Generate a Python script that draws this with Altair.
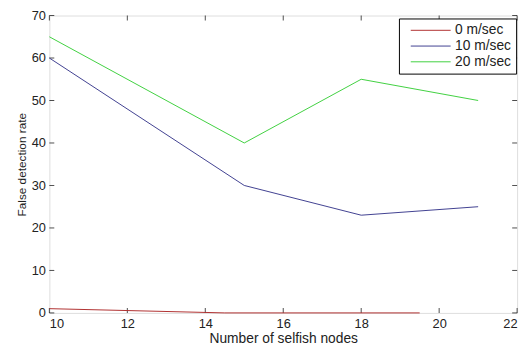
import altair as alt
import pandas as pd

speeds = ["0 m/sec", "10 m/sec", "20 m/sec"]
colors = ["#b03030", "#404090", "#40d040"]

x_red = [10, 14.5, 19.5]
y_red = [1, 0, 0]
x_blue = [10, 15, 18, 21]
y_blue = [60, 30, 23, 25]
x_green = [10, 15, 18, 21]
y_green = [65, 40, 55, 50]

x_ticks = [10, 12, 14, 16, 18, 20, 22]
y_ticks = [0, 10, 20, 30, 40, 50, 60, 70]

rows = []
for name, xs, ys in [(speeds[0], x_red, y_red), (speeds[1], x_blue, y_blue), (speeds[2], x_green, y_green)]:
    for i, (xv, yv) in enumerate(zip(xs, ys)):
        rows.append({"speed": name, "nodes": xv, "rate": yv, "order": i})
df = pd.DataFrame(rows)

W, H = 475, 302
FONT = "Liberation Sans"

xscale = alt.Scale(domain=[10, 22], nice=False, zero=False)
yscale = alt.Scale(domain=[0, 70], nice=False)

lines = alt.Chart(df).mark_line(strokeWidth=1).encode(
    x=alt.X("nodes:Q", scale=xscale,
            axis=alt.Axis(values=x_ticks, title="Number of selfish nodes", format="d",
                          domain=False, ticks=False, grid=False, labelPadding=5,
                          labelFontSize=13, titleFontSize=14, titlePadding=1,
                          labelColor="#222", titleColor="#222", labelFont=FONT, titleFont=FONT,
                          titleFontWeight="normal")),
    y=alt.Y("rate:Q", scale=yscale,
            axis=alt.Axis(values=y_ticks, title="False detection rate", format="d",
                          domain=False, ticks=False, grid=False, labelPadding=4,
                          labelFontSize=13, titleFontSize=12, titlePadding=3,
                          labelColor="#222", titleColor="#222", labelFont=FONT, titleFont=FONT,
                          titleFontWeight="normal")),
    color=alt.Color("speed:N", scale=alt.Scale(domain=speeds, range=colors),
                    legend=alt.Legend(title=None, orient="none", legendX=355, legendY=3,
                                      strokeColor="black", fillColor="white", padding=5,
                                      symbolType="M0,0H9", symbolSize=81, symbolStrokeWidth=1,
                                      labelOffset=38, labelFontSize=14, labelFont=FONT,
                                      labelColor="#222", rowPadding=2, cornerRadius=0)),
    order="order:Q",
)

tdx = pd.DataFrame({"t": x_ticks})
tdy = pd.DataFrame({"t": y_ticks})

bottom_ticks = alt.Chart(tdx).mark_tick(size=5, thickness=1, color="black", orient="vertical", yOffset=-2.5).encode(
    x=alt.X("t:Q", scale=xscale), y=alt.value(H))
top_ticks = alt.Chart(tdx).mark_tick(size=5, thickness=1, color="black", orient="vertical", yOffset=2.5).encode(
    x=alt.X("t:Q", scale=xscale), y=alt.value(0))
left_ticks = alt.Chart(tdy).mark_tick(size=5, thickness=1, color="black", orient="horizontal", xOffset=2.5).encode(
    y=alt.Y("t:Q", scale=yscale), x=alt.value(0))
right_ticks = alt.Chart(tdy).mark_tick(size=5, thickness=1, color="black", orient="horizontal", xOffset=-2.5).encode(
    y=alt.Y("t:Q", scale=yscale), x=alt.value(W))

chart = alt.layer(bottom_ticks, top_ticks, left_ticks, right_ticks, lines).properties(
    width=W, height=H,
    autosize=alt.AutoSizeParams(type="none"),
    padding={"left": 42, "top": 5, "right": 7, "bottom": 34},
).configure_view(stroke="black", strokeWidth=1).configure(background="white")

chart.save("out.html", embed_options={"renderer": "svg", "actions": False})
